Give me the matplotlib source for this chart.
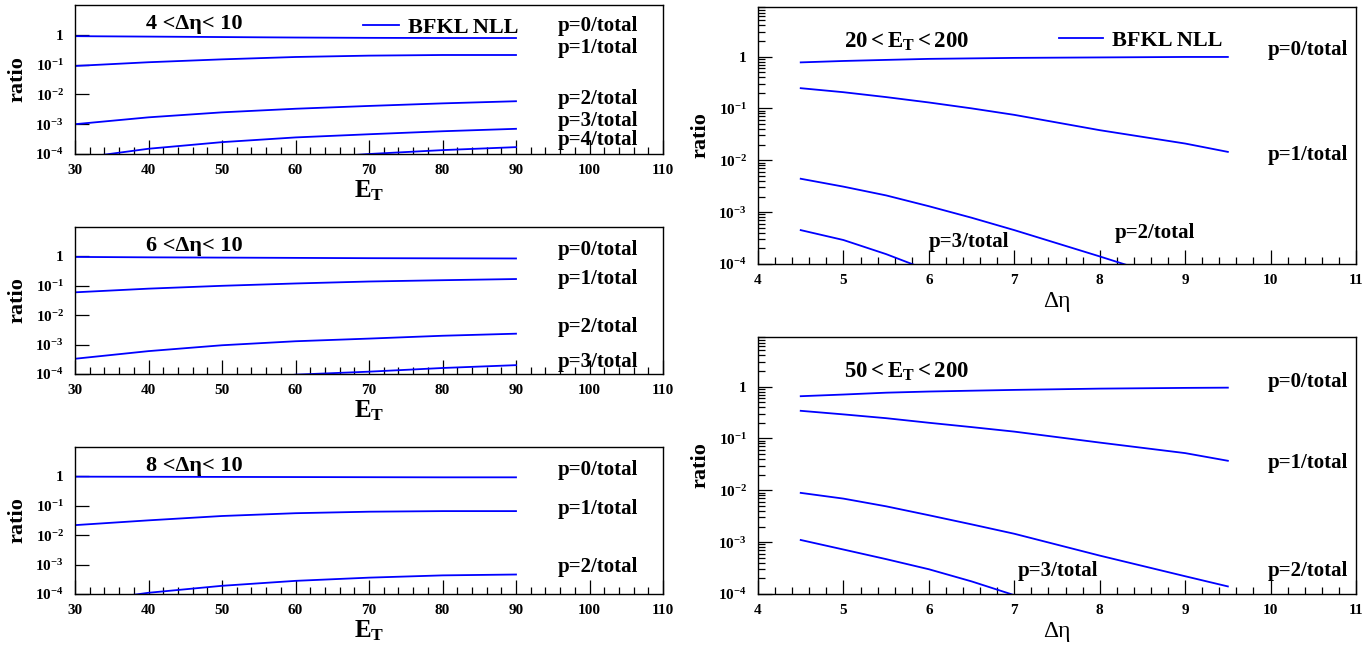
import numpy as np
import matplotlib
matplotlib.use('Agg')
import matplotlib.pyplot as plt
from matplotlib.ticker import FixedLocator, LogLocator, MultipleLocator, FuncFormatter, NullFormatter

plt.rcParams['font.family'] = ['Liberation Serif', 'DejaVu Serif']
plt.rcParams['font.weight'] = 'bold'
plt.rcParams['mathtext.fontset'] = 'custom'
plt.rcParams['mathtext.rm'] = 'Liberation Serif'
plt.rcParams['mathtext.bf'] = 'Liberation Serif:bold'
plt.rcParams['mathtext.it'] = 'Liberation Serif:italic'

# ratio of p-jet contributions to the total, vs E_T, for three rapidity cuts
et = [30, 40, 50, 60, 70, 80, 90]
deta4_p0 = [0.90, 0.87, 0.84, 0.81, 0.79, 0.78, 0.78]
deta4_p1 = [0.09, 0.12, 0.15, 0.18, 0.20, 0.21, 0.21]
deta4_p2 = [1.0e-3, 1.7e-3, 2.5e-3, 3.3e-3, 4.1e-3, 5.0e-3, 5.9e-3]
deta4_p3 = [7e-5, 1.5e-4, 2.5e-4, 3.6e-4, 4.6e-4, 5.8e-4, 7e-4]
deta4_p4 = [1.5e-5, 2.8e-5, 4.5e-5, 6.8e-5, 1.0e-4, 1.35e-4, 1.7e-4]

deta6_p0 = [0.96, 0.93, 0.91, 0.89, 0.87, 0.86, 0.85]
deta6_p1 = [0.06, 0.08, 0.10, 0.12, 0.14, 0.155, 0.17]
deta6_p2 = [3.3e-4, 6e-4, 9.5e-4, 1.3e-3, 1.6e-3, 2.0e-3, 2.35e-3]
deta6_p3 = [1.5e-5, 3e-5, 5e-5, 9.5e-5, 1.2e-4, 1.6e-4, 2.0e-4]

deta8_p0 = [0.98, 0.97, 0.96, 0.95, 0.94, 0.93, 0.93]
deta8_p1 = [0.022, 0.032, 0.045, 0.056, 0.063, 0.066, 0.066]
deta8_p2 = [5e-5, 1.1e-4, 1.9e-4, 2.8e-4, 3.6e-4, 4.3e-4, 4.6e-4]

# ratio vs rapidity separation for two E_T ranges
deta = [4.5, 5, 5.5, 6, 6.5, 7, 8, 9, 9.5]
et20_p0 = [0.77, 0.82, 0.86, 0.90, 0.92, 0.94, 0.96, 0.98, 0.98]
et20_p1 = [0.245, 0.205, 0.165, 0.13, 0.10, 0.075, 0.038, 0.021, 0.0145]
et20_p2 = [4.4e-3, 3.1e-3, 2.1e-3, 1.3e-3, 7.8e-4, 4.5e-4, 1.4e-4, 4.2e-5, 2.3e-5]
et20_p3 = [4.5e-4, 2.9e-4, 1.55e-4, 7.5e-5, 3.8e-5, 2e-5, 4e-6, 9e-7, 4e-7]

et50_p0 = [0.65, 0.70, 0.76, 0.80, 0.83, 0.86, 0.91, 0.94, 0.95]
et50_p1 = [0.34, 0.29, 0.245, 0.20, 0.165, 0.135, 0.083, 0.052, 0.037]
et50_p2 = [8.9e-3, 6.9e-3, 4.9e-3, 3.3e-3, 2.2e-3, 1.45e-3, 5.5e-4, 2.2e-4, 1.4e-4]
et50_p3 = [1.1e-3, 7.2e-4, 4.7e-4, 3e-4, 1.75e-4, 9.5e-5, 2.5e-5, 7e-6, 3.5e-6]

BLUE = '#0000ff'
W, H = 1372, 649


def ylog_fmt(v, pos):
    e = int(round(np.log10(v)))
    if e == 0:
        return '1'
    return r'$\mathbf{10^{%d}}$' % e


def style_axes(ax, xlim, xmajor, xminor, ytop):
    ax.set_yscale('log')
    ax.set_xlim(*xlim)
    ax.set_ylim(1e-4, ytop)
    ax.xaxis.set_major_locator(MultipleLocator(xmajor))
    ax.xaxis.set_minor_locator(MultipleLocator(xminor))
    ax.yaxis.set_major_locator(FixedLocator([1e-4, 1e-3, 1e-2, 1e-1, 1]))
    ax.yaxis.set_minor_locator(LogLocator(base=10, subs=np.arange(2, 10)))
    ax.yaxis.set_major_formatter(FuncFormatter(ylog_fmt))
    ax.yaxis.set_minor_formatter(NullFormatter())
    ax.tick_params(which='both', direction='in', top=False, right=False,
                   width=0.9, labelsize=11)
    ax.tick_params(which='major', length=10)
    ax.tick_params(which='minor', length=5)
    ax.tick_params(axis='x', pad=7)
    ax.tick_params(axis='y', pad=8)
    for lab in ax.get_xticklabels():
        lab.set_fontweight('bold')
    for s in ax.spines.values():
        s.set_linewidth(1.0)
    ax.set_ylabel('ratio', fontsize=16, fontweight='bold', labelpad=6)


def add_axes(fig, left, top, right, bottom):
    return fig.add_axes([left / W, 1 - bottom / H, (right - left) / W, (bottom - top) / H])


fig = plt.figure(figsize=(13.72, 6.49), dpi=100)

lkw = dict(fontsize=15, fontweight='bold', ha='center', va='center')
legprop = {'family': 'Liberation Serif', 'weight': 'bold', 'size': 16}

# left column: ratio vs E_T
left_panels = [
    (5, 154, '4 <Δη< 10', [deta4_p0, deta4_p1, deta4_p2, deta4_p3, deta4_p4],
     [1.9, 0.36, 6.8e-3, 1.25e-3, 2.9e-4], True),
    (227, 374, '6 <Δη< 10', [deta6_p0, deta6_p1, deta6_p2, deta6_p3],
     [1.7, 0.17, 3.9e-3, 2.6e-4], False),
    (447, 594, '8 <Δη< 10', [deta8_p0, deta8_p1, deta8_p2],
     [1.7, 0.08, 8.3e-4], False),
]
for top, bottom, title, series, ypos, with_leg in left_panels:
    ax = add_axes(fig, 75, top, 663, bottom)
    for i, s in enumerate(series):
        ax.plot(et, s, color=BLUE, lw=1.3, label='BFKL NLL' if i == 0 else None)
    style_axes(ax, (30, 110), 10, 2, 10)
    ax.set_xlabel(r'$\mathbf{E_T}$', fontsize=18, labelpad=1)
    ax.text(0.12, 0.87, title, transform=ax.transAxes, fontsize=16,
            fontweight='bold', ha='left', va='center')
    for i, y in enumerate(ypos):
        ax.text(101.2, y, 'p=%d/total' % i, **lkw)
    if with_leg:
        ax.legend(loc='center left', bbox_to_anchor=(0.49, 0.85), frameon=False,
                  handlelength=1.6, handletextpad=0.4, borderpad=0, borderaxespad=0,
                  prop=legprop)

# right column: ratio vs delta eta
right_panels = [
    (7, 264, r'$\mathbf{20 < E_T < 200}$', [et20_p0, et20_p1, et20_p2, et20_p3],
     [(10.44, 1.35), (10.44, 1.26e-2), (8.65, 4e-4), (6.47, 2.6e-4)], True),
    (337, 594, r'$\mathbf{50 < E_T < 200}$', [et50_p0, et50_p1, et50_p2, et50_p3],
     [(10.44, 1.2), (10.44, 3.3e-2), (10.44, 2.8e-4), (7.51, 2.8e-4)], False),
]
for top, bottom, title, series, pos, with_leg in right_panels:
    ax = add_axes(fig, 758, top, 1356, bottom)
    for i, s in enumerate(series):
        ax.plot(deta, s, color=BLUE, lw=1.3, label='BFKL NLL' if i == 0 else None)
    style_axes(ax, (4, 11), 1, 0.2, 9)
    ax.set_xlabel('Δη', fontsize=17, fontweight='normal', labelpad=3)
    ax.text(0.143, 0.865, title, transform=ax.transAxes, fontsize=16.5,
            ha='left', va='center')
    for i, (x, y) in enumerate(pos):
        ax.text(x, y, 'p=%d/total' % i, **lkw)
    if with_leg:
        ax.legend(loc='center left', bbox_to_anchor=(0.503, 0.868), frameon=False,
                  handlelength=2.0, handletextpad=0.4, borderpad=0, borderaxespad=0,
                  prop=legprop)

fig.savefig('out.png', dpi=100)
